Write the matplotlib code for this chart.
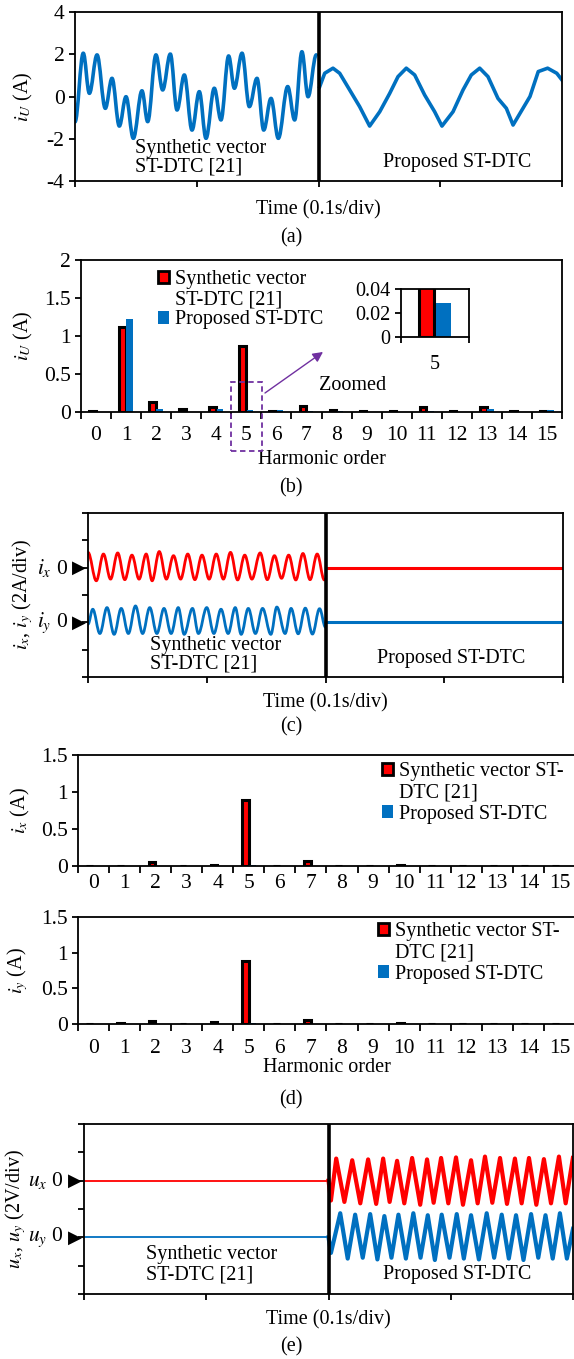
import numpy as np
import matplotlib
matplotlib.use("Agg")
import matplotlib.pyplot as plt
from matplotlib.path import Path
from matplotlib.patches import PathPatch, Patch, Rectangle
from matplotlib.ticker import FixedLocator, FuncFormatter

plt.rcParams.update({
    "font.family": "serif",
    "font.serif": ["Liberation Serif", "DejaVu Serif"],
    "mathtext.fontset": "stix",
    "font.size": 14.5,
    "xtick.labelsize": 15.5,
    "ytick.labelsize": 15.5,
    "axes.unicode_minus": False,
    "axes.linewidth": 1.3,
    "xtick.major.width": 1.3, "ytick.major.width": 1.3,
    "xtick.minor.width": 1.3, "ytick.minor.width": 1.3,
    "xtick.major.size": 4, "ytick.major.size": 4,
    "xtick.minor.size": 4,
})

RED = "#FF0000"
BLUE = "#0070C0"
PURPLE = "#7030A0"

# ---- (a) phase current i_U, time in divisions, value in A ----
iu_syn_t = [0.000, 0.068, 0.118, 0.181, 0.249, 0.304, 0.364, 0.419, 0.479, 0.550,
            0.597, 0.665, 0.720, 0.783, 0.838, 0.898, 0.961, 1.021, 1.076, 1.144,
            1.199, 1.262, 1.309, 1.372, 1.432, 1.495, 1.550, 1.610, 1.670, 1.747,
            1.804, 1.864, 1.914, 1.982]
iu_syn = [-1.20, 2.05, 0.15, 1.97, -0.56, 0.86, -1.40, -0.01, -1.98, 0.27,
          -1.19, 1.97, 0.31, 2.01, -0.64, 1.02, -1.59, 0.23, -1.98, 0.39,
          -1.11, 1.92, 0.39, 2.05, -0.48, 0.86, -1.59, -0.09, -1.98, 0.47,
          -1.11, 2.12, -0.01, 1.97]
iu_prop_t = [2.010, 2.051, 2.119, 2.174, 2.256, 2.338, 2.420, 2.503, 2.585, 2.653,
             2.721, 2.790, 2.872, 2.954, 3.014, 3.105, 3.187, 3.255, 3.324, 3.392,
             3.474, 3.543, 3.598, 3.737, 3.805, 3.882, 3.957, 4.000]
iu_prop = [0.47, 1.10, 1.34, 1.10, 0.31, -0.48, -1.40, -0.72, 0.15, 0.94,
           1.34, 1.02, 0.07, -0.72, -1.40, -0.72, 0.31, 1.02, 1.34, 0.94,
           -0.09, -0.56, -1.35, 0.00, 1.18, 1.34, 1.10, 0.78]

# ---- harmonic spectra ----
orders = [str(k) for k in range(16)]
iu_h_syn = [0.01, 1.12, 0.13, 0.035, 0.065, 0.87, 0.01, 0.08, 0.03, 0.008,
            0.008, 0.07, 0.01, 0.065, 0.008, 0.01]
iu_h_prop = [0.004, 1.23, 0.045, 0.005, 0.045, 0.028, 0.025, 0.018, 0.015, 0.005,
             0.003, 0.015, 0.005, 0.045, 0.005, 0.02]
ix_h_syn = [0.005, 0.005, 0.05, 0.005, 0.01, 0.89, 0.005, 0.07, 0.005, 0.005,
            0.008, 0.005, 0.005, 0.003, 0.005, 0.005]
ix_h_prop = [0.001, 0.001, 0.002, 0.001, 0.002, 0.012, 0.001, 0.002, 0.001, 0.001,
             0.001, 0.001, 0.001, 0.001, 0.001, 0.001]
iy_h_syn = [0.005, 0.008, 0.04, 0.006, 0.03, 0.89, 0.005, 0.055, 0.006, 0.004,
            0.01, 0.004, 0.006, 0.003, 0.004, 0.004]
iy_h_prop = [0.001, 0.001, 0.002, 0.001, 0.003, 0.012, 0.001, 0.002, 0.001, 0.001,
             0.001, 0.001, 0.001, 0.001, 0.001, 0.001]
zoom_order = 5

# ---- (c) x-y currents, divisions (2 A/div) around each trace's zero ----
ix_syn_t = [0.00, 0.07, 0.13, 0.19, 0.25, 0.31, 0.37, 0.43, 0.49, 0.54,
            0.60, 0.66, 0.72, 0.78, 0.84, 0.90, 0.96, 1.02, 1.08, 1.14,
            1.20, 1.26, 1.32, 1.38, 1.45, 1.51, 1.57, 1.63, 1.69, 1.75,
            1.81, 1.87, 1.93, 1.99]
ix_syn = [0.56, -0.48, 0.50, -0.42, 0.54, -0.44, 0.46, -0.42, 0.50, -0.48,
          0.59, -0.42, 0.44, -0.42, 0.50, -0.44, 0.46, -0.42, 0.50, -0.42,
          0.56, -0.45, 0.46, -0.42, 0.54, -0.44, 0.44, -0.39, 0.46, -0.45,
          0.52, -0.44, 0.50, -0.45]
iy_syn_t = [0.00, 0.04, 0.10, 0.16, 0.22, 0.28, 0.34, 0.40, 0.46, 0.52,
            0.58, 0.64, 0.70, 0.76, 0.81, 0.88, 0.93, 1.00, 1.06, 1.12,
            1.18, 1.24, 1.29, 1.35, 1.41, 1.47, 1.54, 1.59, 1.66, 1.71,
            1.77, 1.83, 1.89, 1.95, 2.00]
iy_syn = [-0.07, 0.48, -0.41, 0.54, -0.44, 0.51, -0.41, 0.60, -0.41, 0.54,
          -0.41, 0.51, -0.41, 0.54, -0.44, 0.51, -0.41, 0.54, -0.41, 0.48,
          -0.41, 0.54, -0.44, 0.51, -0.41, 0.51, -0.44, 0.56, -0.41, 0.51,
          -0.42, 0.52, -0.43, 0.50, -0.18]
ix_prop_t = [2.00, 4.00]
ix_prop = [0.0, 0.0]
iy_prop_t = [2.00, 4.00]
iy_prop = [0.0, 0.0]

# ---- (e) x-y voltages, divisions (2 V/div) ----
ux_syn_t = [0.00, 2.00]
ux_syn = [0.0, 0.0]
uy_syn_t = [0.00, 2.00]
uy_syn = [0.0, 0.0]
ux_prop_t = [2.00, 2.02, 2.063, 2.13, 2.194, 2.26, 2.324, 2.39, 2.447, 2.50,
             2.561, 2.62, 2.684, 2.75, 2.806, 2.86, 2.921, 2.98, 3.043, 3.10,
             3.166, 3.22, 3.280, 3.34, 3.403, 3.46, 3.525, 3.58, 3.640, 3.70,
             3.762, 3.82, 3.885, 3.94, 3.999]
ux_prop = [0.0, -0.70, 0.78, -0.75, 0.72, -0.80, 0.75, -0.82, 0.78, -0.75,
           0.70, -0.80, 0.80, -0.85, 0.75, -0.78, 0.80, -0.80, 0.82, -0.85,
           0.72, -0.80, 0.85, -0.78, 0.80, -0.82, 0.78, -0.80, 0.80, -0.85,
           0.76, -0.80, 0.85, -0.80, 0.80]
uy_prop_t = [2.00, 2.02, 2.096, 2.157, 2.218, 2.28, 2.341, 2.40, 2.457, 2.515,
             2.572, 2.633, 2.694, 2.753, 2.812, 2.87, 2.926, 2.99, 3.049, 3.107,
             3.166, 3.23, 3.294, 3.355, 3.417, 3.475, 3.534, 3.595, 3.657, 3.716,
             3.775, 3.834, 3.893, 3.95, 4.00]
uy_prop = [0.0, -0.55, 0.85, -0.75, 0.80, -0.72, 0.82, -0.78, 0.75, -0.72,
           0.80, -0.75, 0.85, -0.72, 0.78, -0.80, 0.80, -0.72, 0.82, -0.75,
           0.78, -0.78, 0.85, -0.72, 0.80, -0.75, 0.78, -0.80, 0.82, -0.72,
           0.78, -0.75, 0.85, -0.75, 0.30]

W, H = 574, 1359


def rect(l, t, r, b):
    return [l / W, 1 - b / H, (r - l) / W, (b - t) / H]


def smooth_wave(ax, t, v, base, color, lw):
    # cubic segments between successive extremes, flat tangent at each extreme
    pts = [(t[0], v[0] + base)]
    codes = [Path.MOVETO]
    for i in range(1, len(t)):
        h = (t[i] - t[i - 1]) * 0.3634
        pts += [(t[i - 1] + h, v[i - 1] + base), (t[i] - h, v[i] + base),
                (t[i], v[i] + base)]
        codes += [Path.CURVE4] * 3
    ax.add_patch(PathPatch(Path(pts, codes), fill=False, edgecolor=color,
                           lw=lw, capstyle="round", joinstyle="round"))


def scope_axes(ax, xlabel_pad):
    ax.set_xlim(0, 4)
    ax.set_xticks(range(5))
    ax.set_xticklabels([])
    ax.axvline(2, color="k", lw=2.6, zorder=5)
    ax.set_xlabel("Time (0.1s/div)", labelpad=xlabel_pad)


def ylabel_at(ax, text, right_px, left_px, width_px):
    # right_px: where the rotated label's right edge sits, in figure pixels
    ax.set_ylabel(text)
    ax.yaxis.set_label_coords((right_px - left_px) / width_px, 0.5)


def zero_marks(ax, levels, labels):
    tr = ax.get_yaxis_transform()
    for lev, lab in zip(levels, labels):
        ax.annotate("\u25B6", xy=(0, lev), xycoords=tr, xytext=(-1.5, 0),
                    textcoords="offset points", ha="right", va="center",
                    fontsize=13, family="DejaVu Sans", annotation_clip=False)
        ax.annotate(lab + " 0", xy=(0, lev), xycoords=tr, xytext=(-14.5, 0),
                    textcoords="offset points", ha="right", va="center",
                    fontsize=15.5, annotation_clip=False)


def harmonic_bars(ax, red, blue, ymax, ystep, label_pad):
    x = np.arange(len(orders))
    ax.bar(x - 0.12, red, 0.22, color=RED, edgecolor="k", lw=2.2, zorder=2)
    ax.bar(x + 0.12, blue, 0.22, color=BLUE, lw=0, zorder=2)
    ax.set_xlim(-0.5, len(orders) - 0.5)
    ax.set_ylim(0, ymax)
    ax.set_yticks(np.arange(0, ymax + 1e-9, ystep))
    ax.yaxis.set_major_formatter(FuncFormatter(lambda v, p: f"{v:g}"))
    ax.set_xticks(x)
    ax.set_xticklabels(orders)
    ax.xaxis.set_minor_locator(FixedLocator(np.arange(-0.5, len(orders), 1)))
    ax.tick_params(axis="x", which="major", length=0, pad=label_pad)
    ax.tick_params(axis="x", which="minor", length=5, direction="out")


def bar_legend(ax, labels, left, top, spacing):
    handles = [Patch(facecolor=RED, edgecolor="k", lw=2.0),
               Patch(facecolor="none", edgecolor="none"),
               Patch(facecolor=BLUE, edgecolor="none")]
    ax.legend(handles, labels, loc="upper left",
              bbox_to_anchor=(left / W, 1 - top / H),
              bbox_transform=ax.figure.transFigure, frameon=False,
              borderpad=0, borderaxespad=0, labelspacing=spacing,
              handlelength=0.55, handleheight=0.6, handletextpad=0.3)


fig = plt.figure(figsize=(W / 100, H / 100), dpi=100)

# ---------------- (a) ----------------
ax = fig.add_axes(rect(75, 12, 562, 181))
smooth_wave(ax, iu_syn_t, iu_syn, 0, BLUE, 2.6)
ax.plot(iu_prop_t, iu_prop, color=BLUE, lw=2.6)
scope_axes(ax, 6)
ax.set_ylim(-4, 4)
ax.set_yticks([-4, -2, 0, 2, 4])
ylabel_at(ax, r"$i_U$ (A)", 35, 75, 487)
ax.text(0.123, 0.139, "Synthetic vector\nST-DTC [21]", transform=ax.transAxes,
        ha="left", va="center", linespacing=1.0)
ax.text(0.632, 0.107, "Proposed ST-DTC", transform=ax.transAxes,
        ha="left", va="center")
fig.text(291 / W, 1 - 238 / H, "(a)", ha="center", va="center")

# ---------------- (b) ----------------
ax = fig.add_axes(rect(81, 260, 562, 412))
harmonic_bars(ax, iu_h_syn, iu_h_prop, 2, 0.5, 10)
ylabel_at(ax, r"$i_U$ (A)", 35, 81, 481)
ax.set_xlabel("Harmonic order", labelpad=4)
bar_legend(ax, ["Synthetic vector", "ST-DTC [21]", "Proposed ST-DTC"], 158, 270, 0.06)
ax.add_patch(Rectangle((zoom_order - 0.51, -0.51), 1.03, 0.905, fill=False,
                       ec=PURPLE, ls=(0, (3, 2)), lw=1.3, clip_on=False, zorder=6))
ax.annotate("", xy=(zoom_order + 2.55, 0.79), xytext=(zoom_order + 0.62, 0.25),
            arrowprops=dict(arrowstyle="-|>", color=PURPLE, lw=1.0,
                            mutation_scale=15, shrinkA=0, shrinkB=0))
ax.text(zoom_order + 2.41, 0.355, "Zoomed", ha="left", va="center")
fig.text(291 / W, 1 - 488 / H, "(b)", ha="center", va="center")

# inset of order 5
axi = fig.add_axes(rect(401, 289, 469, 337))
axi.bar([-0.13], [iu_h_syn[zoom_order]], 0.22, color=RED, edgecolor="k", lw=2.2)
axi.bar([0.13], [iu_h_prop[zoom_order]], 0.22, color=BLUE, lw=0)
axi.set_xlim(-0.5, 0.5)
axi.set_ylim(0, 0.04)
axi.set_yticks([0, 0.02, 0.04])
axi.yaxis.set_major_formatter(FuncFormatter(lambda v, p: f"{v:g}"))
axi.set_xticks([0])
axi.set_xticklabels([orders[zoom_order]])
axi.xaxis.set_minor_locator(FixedLocator([-0.5, 0.5]))
axi.tick_params(axis="both", which="major", labelsize=14.5)
axi.tick_params(axis="x", which="major", length=0, pad=13)
axi.tick_params(axis="x", which="minor", length=4, direction="out")

# ---------------- (c) ----------------
ax = fig.add_axes(rect(88, 513, 563, 677))
smooth_wave(ax, ix_syn_t, ix_syn, 4, RED, 2.0)
smooth_wave(ax, iy_syn_t, iy_syn, 2, BLUE, 2.0)
ax.plot(ix_prop_t, np.add(ix_prop, 4), color=RED, lw=2.2)
ax.plot(iy_prop_t, np.add(iy_prop, 2), color=BLUE, lw=2.2)
scope_axes(ax, 4)
ax.set_ylim(0, 6)
ax.set_yticks(range(7))
ax.set_yticklabels([])
zero_marks(ax, [4, 2], [r"$i_x$", r"$i_y$"])
ylabel_at(ax, r"$i_x$, $i_y$ (2A/div)", 35, 88, 475)
ax.text(0.131, 0.137, "Synthetic vector\nST-DTC [21]", transform=ax.transAxes,
        ha="left", va="center", linespacing=1.0)
ax.text(0.608, 0.110, "Proposed ST-DTC", transform=ax.transAxes,
        ha="left", va="center")
fig.text(291 / W, 1 - 727 / H, "(c)", ha="center", va="center")

# ---------------- (d) ----------------
ax = fig.add_axes(rect(78, 755, 575, 866))
harmonic_bars(ax, ix_h_syn, ix_h_prop, 1.5, 0.5, 6)
ax.spines["right"].set_visible(False)
ylabel_at(ax, r"$i_x$ (A)", 32, 78, 497)
bar_legend(ax, ["Synthetic vector ST-", "DTC [21]", "Proposed ST-DTC"], 382, 762, 0.12)

ax = fig.add_axes(rect(78, 917, 575, 1024))
harmonic_bars(ax, iy_h_syn, iy_h_prop, 1.5, 0.5, 11)
ax.spines["right"].set_visible(False)
ylabel_at(ax, r"$i_y$ (A)", 30, 78, 497)
ax.set_xlabel("Harmonic order", labelpad=0)
bar_legend(ax, ["Synthetic vector ST-", "DTC [21]", "Proposed ST-DTC"], 378, 922, 0.12)
fig.text(291 / W, 1 - 1100 / H, "(d)", ha="center", va="center")

# ---------------- (e) ----------------
ax = fig.add_axes(rect(84, 1124, 573, 1294))
ax.plot(ux_syn_t, np.add(ux_syn, 4), color=RED, lw=1.3)
ax.plot(uy_syn_t, np.add(uy_syn, 2), color=BLUE, lw=1.3)
ax.plot(ux_prop_t, np.add(ux_prop, 4), color=RED, lw=3.0)
ax.plot(uy_prop_t, np.add(uy_prop, 2), color=BLUE, lw=3.0)
scope_axes(ax, 4)
ax.set_ylim(0, 6)
ax.set_yticks(range(7))
ax.set_yticklabels([])
zero_marks(ax, [4, 2], [r"$u_x$", r"$u_y$"])
ylabel_at(ax, r"$u_x$, $u_y$ (2V/div)", 28, 84, 489)
ax.text(0.127, 0.171, "Synthetic vector\nST-DTC [21]", transform=ax.transAxes,
        ha="left", va="center", linespacing=1.1)
ax.text(0.611, 0.112, "Proposed ST-DTC", transform=ax.transAxes,
        ha="left", va="center")
fig.text(291 / W, 1 - 1347 / H, "(e)", ha="center", va="center")

fig.savefig("out.png", dpi=100)
